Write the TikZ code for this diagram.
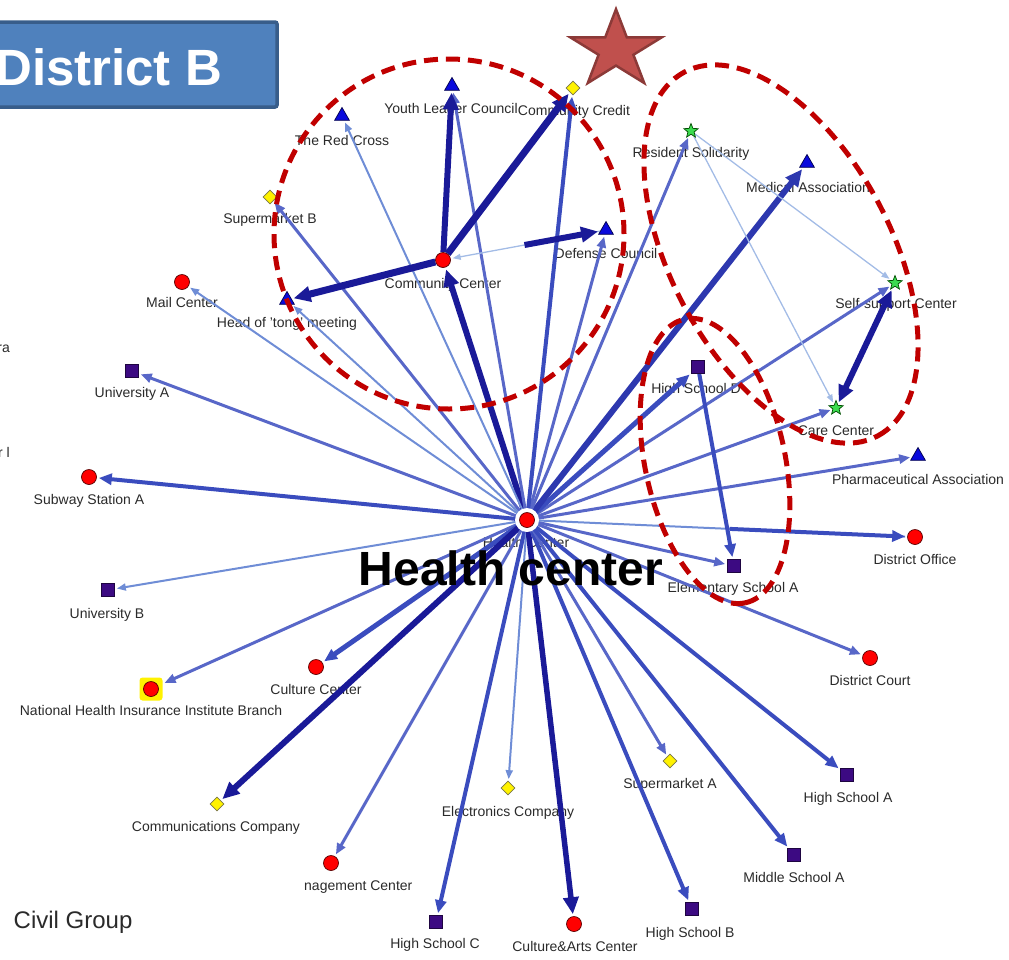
\documentclass[tikz,border=0pt]{standalone}
\usepackage{fontspec}
\setmainfont{Liberation Sans}
\usetikzlibrary{shapes.geometric,arrows.meta,backgrounds}
\definecolor{navy}{HTML}{1A1A98}
\definecolor{midb}{HTML}{3A4CBE}
\definecolor{ltb}{HTML}{6F8DD6}
\definecolor{vltb}{HTML}{A3BCE6}
\definecolor{ovred}{HTML}{C00000}
\definecolor{ttlfill}{HTML}{4F81BD}
\definecolor{ttldraw}{HTML}{385D8A}
\definecolor{starfill}{HTML}{C0504D}
\definecolor{stardraw}{HTML}{8C3A38}
\definecolor{sqfill}{HTML}{3C0A82}
\definecolor{trifill}{HTML}{0A0ADC}
\definecolor{grfill}{HTML}{3CDC50}
\definecolor{labtxt}{HTML}{2A2A2A}
\begin{document}
\begin{tikzpicture}[x=1pt,y=-1pt,
  lab/.style={font=\fontsize{14}{16}\selectfont, text=labtxt, inner sep=0pt, anchor=base},
  rc/.style={circle,fill=red,draw=red!35!black,line width=0.7pt,minimum size=15pt,inner sep=0pt},
  bt/.style={regular polygon,regular polygon sides=3,fill=trifill,draw=blue!30!black,line width=0.7pt,minimum size=17pt,inner sep=0pt},
  ps/.style={rectangle,fill=sqfill,draw=sqfill!50!black,line width=0.7pt,minimum size=13pt,inner sep=0pt},
  yd/.style={diamond,fill=yellow,draw=yellow!40!black,line width=0.7pt,minimum size=14pt,inner sep=0pt},
  gs/.style={star,star points=5,star point ratio=2.3,fill=grfill,draw=green!30!black,line width=0.7pt,minimum size=15pt,inner sep=0pt},
  eThk/.style={draw=navy,line width=6pt,-{Triangle[length=17pt,width=15pt]},shorten >=2pt},
  eMed/.style={draw=midb,line width=4pt,-{Triangle[length=13pt,width=11pt]},shorten >=2pt},
  eMth/.style={draw=midb!85!white,line width=3pt,-{Triangle[length=11pt,width=9pt]},shorten >=2pt},
  eLgt/.style={draw=ltb,line width=2pt,-{Triangle[length=9pt,width=7pt]},shorten >=2pt},
  eVlt/.style={draw=vltb,line width=1.3pt,-{Triangle[length=8pt,width=6pt]},shorten >=2pt},
  oval/.style={draw=ovred,line width=5pt,dash pattern=on 14pt off 8pt}
]
\useasboundingbox (0,0) rectangle (1009,959);

% ---- shape nodes ----
\node[rc] (hc) at (527,520) {};
\node[rc] (cc) at (443,260) {};
\node[bt] (ylc) at (452,86) {};
\node[yd] (ccr) at (573,88) {};
\node[bt] (rcr) at (342,116) {};
\node[yd] (smb) at (270,197) {};
\node[bt] (dc) at (606,230) {};
\node[rc] (mail) at (182,282) {};
\node[bt] (tong) at (287,300) {};
\node[ps] (ua) at (132,371) {};
\node[rc] (sub) at (89,477) {};
\node[ps] (ub) at (108,590) {};
\node[fill=yellow,rounded corners=3pt,minimum size=23pt,inner sep=0pt] (nhihl) at (151,689) {};
\node[rc] (nhi) at (151,689) {};
\node[rc] (cul) at (316,667) {};
\node[yd] (com) at (217,804) {};
\node[rc] (mgt) at (331,863) {};
\node[ps] (hsc) at (436,922) {};
\node[yd] (ele) at (508,788) {};
\node[rc] (arts) at (574,924) {};
\node[ps] (hsb) at (692,909) {};
\node[yd] (sma) at (670,761) {};
\node[ps] (msa) at (794,855) {};
\node[ps] (hsa) at (847,775) {};
\node[rc] (court) at (870,658) {};
\node[rc] (off) at (915,537) {};
\node[ps] (esa) at (734,566) {};
\node[bt] (pha) at (918,456) {};
\node[gs] (care) at (836,408) {};
\node[gs] (ss) at (895,283) {};
\node[bt] (mas) at (807,163) {};
\node[gs] (res) at (691,131) {};
\node[ps] (hsd) at (698,367) {};

\begin{scope}[on background layer]
% ---- labels ----
\node[lab] (l-hc) at (526,547) {Health Center};
\node[lab] (l-cc) at (443,288) {Community Center};
\node[lab] (l-ylc) at (451,113) {Youth Leader Council};
\node[lab] (l-ccr) at (574,115) {Community Credit};
\node[lab] (l-rcr) at (342,145) {The Red Cross};
\node[lab] (l-smb) at (270,223) {Supermarket B};
\node[lab] (l-dc) at (606,258) {Defense Council};
\node[lab] (l-mail) at (182,307) {Mail Center};
\node[lab] (l-tong) at (287,327) {Head of 'tong' meeting};
\node[lab] (l-ua) at (132,397) {University A};
\node[lab] (l-sub) at (89,504) {Subway Station A};
\node[lab] (l-ub) at (107,618) {University B};
\node[lab] (l-nhi) at (151,715) {National Health Insurance Institute Branch};
\node[lab] (l-cul) at (316,694) {Culture Center};
\node[lab] (l-com) at (216,831) {Communications Company};
\node[lab,anchor=base west] (l-mgt) at (304,890) {nagement Center};
\node[lab] (l-hsc) at (435,948) {High School C};
\node[lab] (l-ele) at (508,816) {Electronics Company};
\node[lab] (l-arts) at (575,951) {Culture\&Arts Center};
\node[lab] (l-hsb) at (690,937) {High School B};
\node[lab] (l-sma) at (670,788) {Supermarket A};
\node[lab] (l-msa) at (794,882) {Middle School A};
\node[lab] (l-hsa) at (848,802) {High School A};
\node[lab] (l-court) at (870,685) {District Court};
\node[lab] (l-off) at (915,564) {District Office};
\node[lab] (l-esa) at (733,592) {Elementary School A};
\node[lab] (l-pha) at (918,484) {Pharmaceutical Association};
\node[lab] (l-care) at (836,435) {Care Center};
\node[lab] (l-ss) at (896,308) {Self-support Center};
\node[lab] (l-mas) at (808,192) {Medical Association};
\node[lab] (l-res) at (691,157) {Resident Solidarity};
\node[lab] (l-hsd) at (696,393) {High School D};
\node[lab,anchor=base east] (frag1) at (10,352) {ra};
\node[lab,anchor=base east] (frag2) at (10,457) {er l};

% ---- edges from Health Center ----
\draw[eMed] (hc) -- (sub);
\draw[eMth] (hc) -- (ua);
\draw[eLgt] (hc) -- (ub);
\draw[eMth] (hc) -- (nhihl);
\draw[eMed,line width=5pt] (hc) -- (cul);
\draw[eThk] (hc) -- (com);
\draw[eMth] (hc) -- (mgt);
\draw[eMed] (hc) -- (hsc);
\draw[eLgt] (hc) -- (ele);
\draw[eThk,line width=5.5pt] (hc) -- (arts);
\draw[eMed] (hc) -- (hsb);
\draw[eMth] (hc) -- (sma);
\draw[eMed] (hc) -- (msa);
\draw[eMed] (hc) -- (hsa);
\draw[eMth] (hc) -- (court);
\draw[eMth] (hc) -- (esa);
\draw[eLgt,-] (hc) -- (off);
\draw[eMed,shorten <=195pt] (hc) -- (off);
\draw[eMth] (hc) -- (pha);
\draw[eMth] (hc) -- (care);
\draw[eMth] (hc) -- (ss);
\draw[eMed,line width=5pt] (hc) -- (hsd);
\draw[eThk,draw=midb!60!navy] (hc) -- (mas);
\draw[eMth] (hc) -- (res);
\draw[eMth] (hc) -- (dc);
\draw[eMed] (hc) -- (ccr);
\draw[eThk] (hc) -- (cc);
\draw[eMth] (hc) -- (ylc);
\draw[eLgt] (hc) -- (rcr);
\draw[eMth] (hc) -- (smb);
\draw[eLgt] (hc) -- (tong);
\draw[eLgt] (hc) -- (mail);
% ---- edges from Community Center ----
\draw[eThk] (cc) -- (ylc);
\draw[eThk,line width=7pt] (cc) -- (ccr);
\draw[eThk,line width=7pt] (cc) -- (tong);
\draw[eVlt] (dc) -- (cc);
\draw[eThk,shorten <=75pt] (cc) -- (dc);
% ---- other edges ----
\draw[eVlt] (res) -- (ss);
\draw[eVlt] (res) -- (care);
\draw[eThk,{Triangle[length=17pt,width=15pt]}-{Triangle[length=17pt,width=15pt]},shorten <=2pt] (ss) -- (care);
\draw[eMed] (hsd) -- (esa);
% halo around Health Center
\fill[white] (hc) circle (12pt);
\end{scope}

% ---- dashed groups ----
\draw[oval] (449,234) circle [radius=175pt];
\draw[oval,rotate around={-62:(781,254)}] (781,254) ellipse [x radius=206pt, y radius=110pt];
\draw[oval,rotate around={-78:(715,461)}] (715,461) ellipse [x radius=145pt, y radius=70pt];

% ---- big star ----
\draw[fill=starfill,draw=stardraw,line width=2.5pt,line join=miter]
  (616,9.2) -- (605.2,37.4) -- (570.4,37.4) -- (598.6,54.8) -- (587.8,83.0)
  -- (616,65.6) -- (644.2,83.0) -- (633.4,54.8) -- (661.6,37.4) -- (626.8,37.4) -- cycle;

% ---- title and texts ----
\path[draw=ttldraw,fill=ttlfill,line width=3.5pt,rounded corners=2pt] (-10,22) rectangle (277,107);
\node[anchor=base west,text=white,font=\bfseries\fontsize{51}{51}\selectfont,inner sep=0pt] (ttl) at (-5,85) {District B};
\node[anchor=base west,font=\bfseries\fontsize{48}{48}\selectfont,inner sep=0pt] (hcbig) at (358.5,585) {Health center};
\node[anchor=base west,font=\fontsize{24}{24}\selectfont,text=labtxt,inner sep=0pt] (civ) at (13.5,928) {Civil Group};
\end{tikzpicture}
\end{document}
